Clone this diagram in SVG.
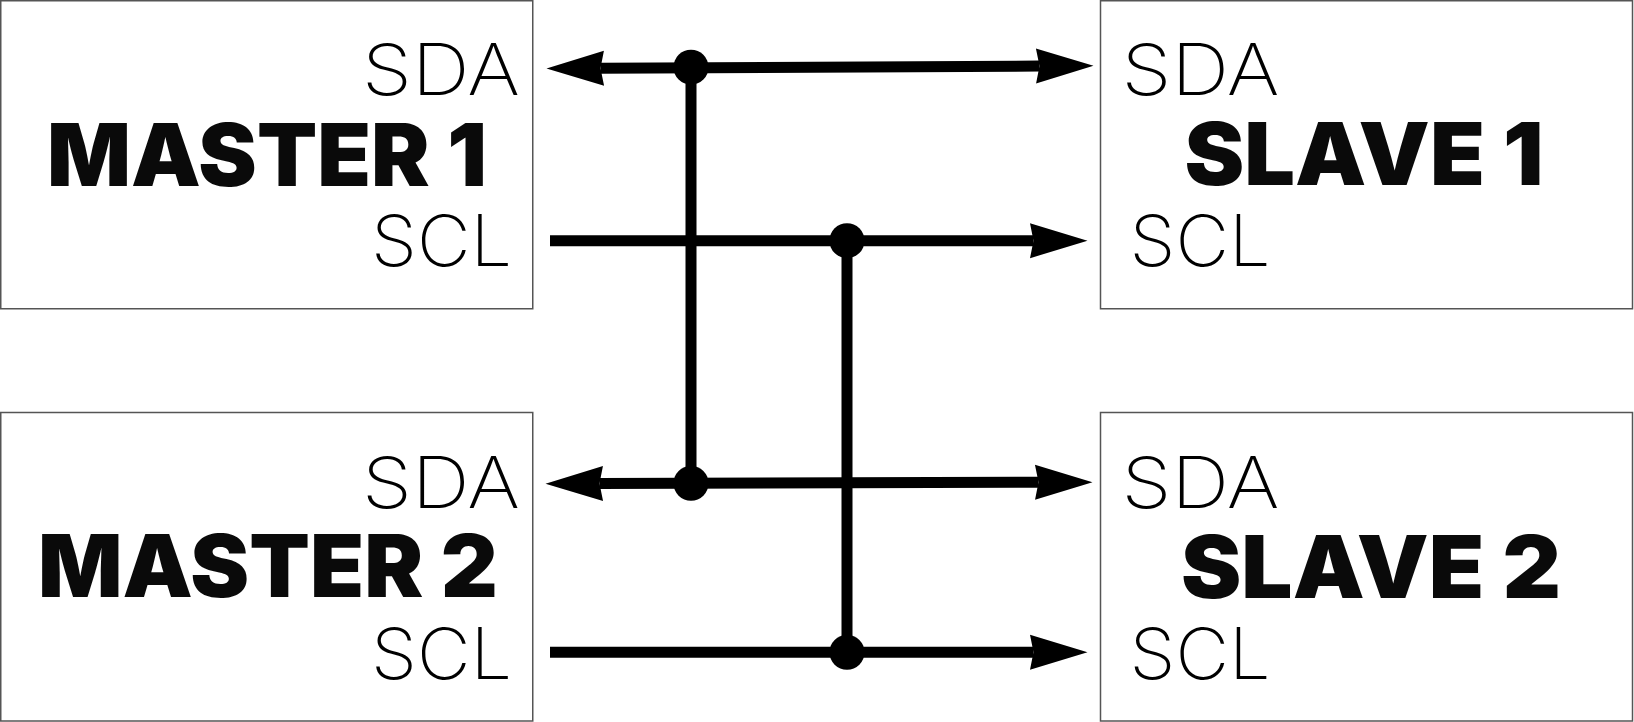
<svg xmlns="http://www.w3.org/2000/svg" width="1634" height="722" viewBox="0 0 1634 722">
<style>
.box{fill:#fff;stroke:#555;stroke-width:1.5}
.pin{font-family:Inter,"Liberation Sans",sans-serif;font-weight:200;font-size:71px;fill:#000}
.name{font-family:Inter,"Liberation Sans",sans-serif;font-weight:900;font-size:86px;fill:#0a0a0a}
.wire{stroke:#000;stroke-width:11;fill:none}
.dot{fill:#000}
</style>
<defs>
<marker id="arr" markerUnits="userSpaceOnUse" markerWidth="58" markerHeight="35" refX="3.5" refY="17.5" orient="auto-start-reverse" overflow="visible">
<path d="M0,0 L57.5,17.5 L0,35 L3.5,17.5 Z" fill="#000"/>
</marker>
</defs>
<rect width="1634" height="722" fill="#fff"/>
<g id="master1">
<rect class="box" x="0.75" y="0.75" width="532" height="308"/>
<text class="pin" x="362" y="95" textLength="158" lengthAdjust="spacingAndGlyphs">SDA</text>
<text class="name" x="47" y="185.7" textLength="440" lengthAdjust="spacingAndGlyphs">MASTER 1</text>
<text class="pin" x="371" y="265.7" textLength="141" lengthAdjust="spacingAndGlyphs">SCL</text>
</g>
<g id="slave1">
<rect class="box" x="1100.5" y="0.75" width="532" height="308"/>
<text class="pin" x="1121.5" y="95" textLength="158" lengthAdjust="spacingAndGlyphs">SDA</text>
<text class="name" x="1184.5" y="185" textLength="359" lengthAdjust="spacingAndGlyphs">SLAVE 1</text>
<text class="pin" x="1129.5" y="265.7" textLength="141" lengthAdjust="spacingAndGlyphs">SCL</text>
</g>
<g id="master2">
<rect class="box" x="0.75" y="412.5" width="532" height="308.5"/>
<text class="pin" x="362" y="508.3" textLength="158" lengthAdjust="spacingAndGlyphs">SDA</text>
<text class="name" x="38" y="597.3" textLength="460" lengthAdjust="spacingAndGlyphs">MASTER 2</text>
<text class="pin" x="371" y="679" textLength="141" lengthAdjust="spacingAndGlyphs">SCL</text>
</g>
<g id="slave2">
<rect class="box" x="1100.5" y="412.5" width="532" height="308.5"/>
<text class="pin" x="1121.5" y="508.3" textLength="158" lengthAdjust="spacingAndGlyphs">SDA</text>
<text class="name" x="1181" y="598" textLength="380" lengthAdjust="spacingAndGlyphs">SLAVE 2</text>
<text class="pin" x="1129.5" y="679" textLength="141" lengthAdjust="spacingAndGlyphs">SCL</text>
</g>
<g id="connectors">
<line class="wire" x1="600.5" y1="68.2" x2="1039.5" y2="66.1" marker-start="url(#arr)" marker-end="url(#arr)"/>
<line class="wire" x1="550" y1="240.7" x2="1033.5" y2="240.7" marker-end="url(#arr)"/>
<line class="wire" x1="599.5" y1="483.5" x2="1038.5" y2="482.3" marker-start="url(#arr)" marker-end="url(#arr)"/>
<line class="wire" x1="550" y1="652.3" x2="1033.5" y2="652.3" marker-end="url(#arr)"/>
<line class="wire" x1="691" y1="67.2" x2="691" y2="483.3"/>
<line class="wire" x1="847" y1="240.7" x2="847" y2="652.3"/>
<circle class="dot" cx="691" cy="67.2" r="17.5"/>
<circle class="dot" cx="691" cy="483.3" r="17.5"/>
<circle class="dot" cx="847" cy="240.7" r="17.5"/>
<circle class="dot" cx="847" cy="652.3" r="17.5"/>
</g>
</svg>
